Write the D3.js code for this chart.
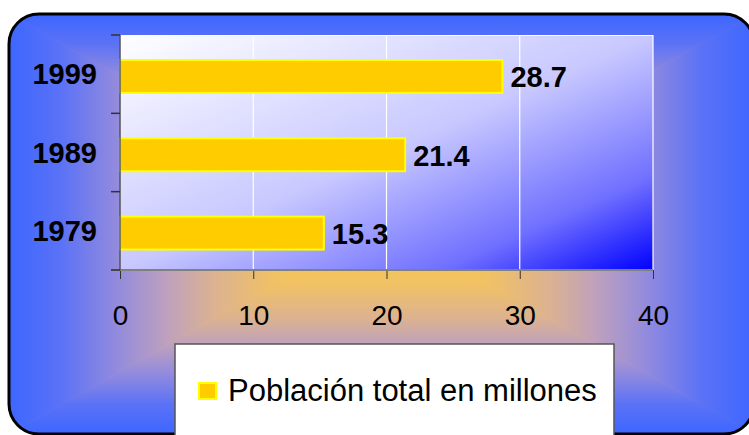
<!DOCTYPE html>
<html>
<head>
<meta charset="utf-8">
<script src="https://cdn.jsdelivr.net/npm/d3@7"></script>
<style>
  html, body { margin: 0; padding: 0; background: #ffffff; }
  svg { display: block; }
  text { font-family: "Liberation Sans", Arial, sans-serif; }
</style>
</head>
<body>
<svg id="chart" width="749" height="435"></svg>
<script>
// ---- data ----
const categories = ["1999", "1989", "1979"];
const values = [28.7, 21.4, 15.3];
const xTicks = [0, 10, 20, 30, 40];
const seriesName = "Población total en millones";

const W = 749, H = 435;
const svg = d3.select("#chart");
const defs = svg.append("defs");

// ---- outer rounded box with rectangular "from center" gradient ----
const box = { x0: 9, y0: 14, x1: 754, y1: 434, r: 30 };
const cx = (box.x0 + box.x1) / 2, cy = (box.y0 + box.y1) / 2;

const bgStops = [
  [0.00, "#f8c64e"],
  [0.28, "#f1c262"],
  [0.45, "#dcb291"],
  [0.58, "#bda0be"],
  [0.72, "#8f89df"],
  [0.86, "#5b72f6"],
  [1.00, "#3d66ff"]
];
function addGrad(id, x1, y1, x2, y2) {
  const g = defs.append("linearGradient").attr("id", id)
    .attr("gradientUnits", "userSpaceOnUse")
    .attr("x1", x1).attr("y1", y1).attr("x2", x2).attr("y2", y2);
  bgStops.slice().reverse().forEach(([t, c]) => {
    g.append("stop").attr("offset", 1 - t).attr("stop-color", c);
  });
}
addGrad("gL", box.x0, cy, cx, cy);
addGrad("gR", box.x1, cy, cx, cy);
addGrad("gT", cx, box.y0, cx, cy);
addGrad("gB", cx, box.y1, cx, cy);

defs.append("clipPath").attr("id", "boxClip")
  .append("rect").attr("x", box.x0).attr("y", box.y0)
  .attr("width", box.x1 - box.x0).attr("height", box.y1 - box.y0)
  .attr("rx", box.r).attr("ry", box.r);

const bgG = svg.append("g").attr("clip-path", "url(#boxClip)");
const tri = [
  ["gL", [[box.x0, box.y0], [cx, cy], [box.x0, box.y1]]],
  ["gR", [[box.x1, box.y0], [cx, cy], [box.x1, box.y1]]],
  ["gT", [[box.x0, box.y0], [box.x1, box.y0], [cx, cy]]],
  ["gB", [[box.x0, box.y1], [box.x1, box.y1], [cx, cy]]]
];
tri.forEach(([id, pts]) => {
  bgG.append("polygon")
    .attr("points", pts.map(p => p.join(",")).join(" "))
    .attr("fill", `url(#${id})`)
    .attr("stroke", `url(#${id})`)
    .attr("stroke-width", 1);
});

svg.append("rect").attr("x", box.x0).attr("y", box.y0)
  .attr("width", box.x1 - box.x0).attr("height", box.y1 - box.y0)
  .attr("rx", box.r).attr("ry", box.r)
  .attr("fill", "none").attr("stroke", "#000").attr("stroke-width", 3);

// ---- plot area ----
const plot = { left: 120, right: 653, top: 35, bottom: 270 };

const pg = defs.append("linearGradient").attr("id", "plotGrad")
  .attr("x1", 0).attr("y1", 0).attr("x2", 1).attr("y2", 1);
[[0, "#ffffff"], [0.5, "#c8c8ff"], [0.8, "#7070ff"], [1, "#0000ff"]].forEach(([o, c]) =>
  pg.append("stop").attr("offset", o).attr("stop-color", c));

svg.append("rect")
  .attr("x", plot.left).attr("y", plot.top)
  .attr("width", plot.right - plot.left).attr("height", plot.bottom - plot.top)
  .attr("fill", "url(#plotGrad)");

const x = d3.scaleLinear().domain([0, 40]).range([plot.left, plot.right]);
const slot = d3.scaleBand().domain(categories).range([plot.top, plot.bottom]).padding(0);
const yBar = d3.scaleBand().domain(categories).range([plot.top, plot.bottom])
  .paddingInner(0.58).paddingOuter(0.29).align(0.55);

// gridlines (white)
svg.append("g").selectAll("line").data(xTicks.slice(1)).join("line")
  .attr("x1", d => x(d)).attr("x2", d => x(d))
  .attr("y1", plot.top).attr("y2", plot.bottom)
  .attr("stroke", "#ffffff").attr("stroke-width", 1.2);
svg.append("line").attr("x1", plot.left).attr("x2", plot.right)
  .attr("y1", plot.top + 0.5).attr("y2", plot.top + 0.5)
  .attr("stroke", "#ffffff").attr("stroke-width", 1);

// bars
svg.append("g").selectAll("rect").data(categories).join("rect")
  .attr("x", x(0))
  .attr("y", (d) => yBar(d))
  .attr("width", (d, i) => x(values[i]) - x(0))
  .attr("height", yBar.bandwidth())
  .attr("fill", "#ffcc00")
  .attr("stroke", "#ffff00")
  .attr("stroke-width", 2);

// value labels
svg.append("g").selectAll("text").data(categories).join("text")
  .attr("x", (d, i) => x(values[i]) + 8)
  .attr("y", d => yBar(d) + yBar.bandwidth() / 2 + 11)
  .attr("font-size", 29).attr("font-weight", "bold").attr("fill", "#000")
  .text((d, i) => values[i].toFixed(1));

// x axis
const xAxis = d3.axisBottom(x).tickValues(xTicks).tickSize(9).tickPadding(0).tickFormat(d3.format("d"));
const gx = svg.append("g").attr("transform", `translate(0,${plot.bottom})`).call(xAxis);
gx.select(".domain").remove();
gx.selectAll(".tick line").attr("stroke", "#333").attr("stroke-width", 1);
gx.selectAll(".tick text").attr("font-size", 28).attr("font-family", "Liberation Sans, Arial, sans-serif")
  .attr("fill", "#000").attr("dy", null).attr("y", 55);
svg.append("line").attr("x1", plot.left - 9).attr("x2", plot.right)
  .attr("y1", plot.bottom).attr("y2", plot.bottom)
  .attr("stroke", "#808080").attr("stroke-width", 2);

// y axis line and ticks at slot boundaries
const bounds = categories.map(c => slot(c)).concat([plot.bottom]);
svg.append("line").attr("x1", plot.left).attr("x2", plot.left)
  .attr("y1", plot.top).attr("y2", plot.bottom)
  .attr("stroke", "#555").attr("stroke-width", 1.5);
svg.append("g").selectAll("line").data(bounds).join("line")
  .attr("x1", plot.left - 9).attr("x2", plot.left)
  .attr("y1", d => d).attr("y2", d => d)
  .attr("stroke", "#333").attr("stroke-width", 1.5);

// category labels
svg.append("g").selectAll("text").data(categories).join("text")
  .attr("x", 97)
  .attr("y", d => slot(d) + slot.bandwidth() / 2 + 10)
  .attr("text-anchor", "end")
  .attr("font-size", 29).attr("font-weight", "bold").attr("fill", "#000")
  .text(d => d);

// ---- legend ----
svg.append("rect").attr("x", 175).attr("y", 344).attr("width", 439).attr("height", 110)
  .attr("fill", "#ffffff").attr("stroke", "#555").attr("stroke-width", 1.5);
svg.append("rect").attr("x", 199).attr("y", 383).attr("width", 17).attr("height", 16)
  .attr("fill", "#ffcc00").attr("stroke", "#ffff00").attr("stroke-width", 2);
svg.append("text").attr("x", 228).attr("y", 401)
  .attr("font-size", 31).attr("fill", "#000").text(seriesName);
</script>
</body>
</html>
